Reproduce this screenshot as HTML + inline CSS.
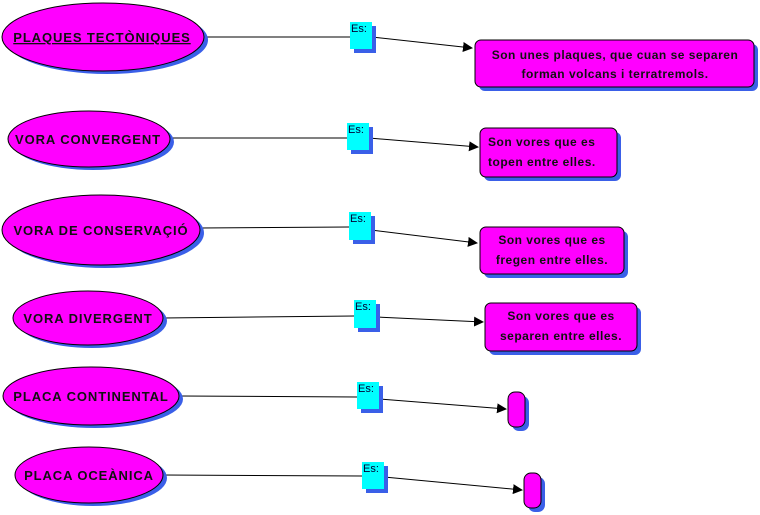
<!DOCTYPE html>
<html><head><meta charset="utf-8"><style>
html,body{margin:0;padding:0;background:#fff;width:760px;height:515px;overflow:hidden}
svg{display:block}
text{font-family:"Liberation Sans",sans-serif;font-weight:bold;fill:#111}
.e{fill:#ff00ff;stroke:#000;stroke-width:1}
.s{fill:#3a5fe8}
.c{fill:#00ffff}
.es{font-weight:normal;font-size:11px;fill:#003;letter-spacing:0}
.l{stroke:#000;stroke-width:1;fill:none}
.t{font-size:13px;letter-spacing:0.9px}
.b{font-size:12px;letter-spacing:0.5px}
</style></head><body>
<svg width="760" height="515" viewBox="0 0 760 515">
<defs><marker id="a" markerWidth="10" markerHeight="10" refX="9" refY="5" orient="auto" markerUnits="userSpaceOnUse"><path d="M0,0 L10,5 L0,10 z" fill="#000"/></marker></defs>

<line class="l" x1="205" y1="37" x2="350" y2="37"/>
<line class="l" x1="170" y1="138" x2="347" y2="138"/>
<line class="l" x1="200" y1="228" x2="349" y2="227"/>
<line class="l" x1="163" y1="318" x2="354" y2="316"/>
<line class="l" x1="180" y1="396" x2="357" y2="397"/>
<line class="l" x1="163" y1="475" x2="362" y2="476"/>
<line class="l" x1="372" y1="37" x2="472" y2="48" marker-end="url(#a)"/>
<line class="l" x1="369" y1="138" x2="478" y2="147" marker-end="url(#a)"/>
<line class="l" x1="371" y1="230" x2="477" y2="243" marker-end="url(#a)"/>
<line class="l" x1="376" y1="317" x2="483" y2="322" marker-end="url(#a)"/>
<line class="l" x1="379" y1="399" x2="506" y2="409" marker-end="url(#a)"/>
<line class="l" x1="384" y1="477" x2="522" y2="490" marker-end="url(#a)"/>

<ellipse class="s" cx="107" cy="40" rx="101" ry="34"/><ellipse class="e" cx="103" cy="37" rx="101" ry="34"/>
<ellipse class="s" cx="93" cy="142" rx="81" ry="28"/><ellipse class="e" cx="89" cy="139" rx="81" ry="28"/>
<ellipse class="s" cx="105" cy="233" rx="99" ry="35"/><ellipse class="e" cx="101" cy="230" rx="99" ry="35"/>
<ellipse class="s" cx="92" cy="321" rx="75" ry="27"/><ellipse class="e" cx="88" cy="318" rx="75" ry="27"/>
<ellipse class="s" cx="95" cy="399" rx="88" ry="29"/><ellipse class="e" cx="91" cy="396" rx="88" ry="29"/>
<ellipse class="s" cx="93" cy="478" rx="74" ry="28"/><ellipse class="e" cx="89" cy="475" rx="74" ry="28"/>
<text class="t" x="102" y="42" text-anchor="middle" text-decoration="underline">PLAQUES TECTÒNIQUES</text>
<text class="t" x="88" y="144" text-anchor="middle">VORA CONVERGENT</text>
<text class="t" x="101" y="235" text-anchor="middle">VORA DE CONSERVAÇIÓ</text>
<text class="t" x="88" y="323" text-anchor="middle">VORA DIVERGENT</text>
<text class="t" x="91" y="401" text-anchor="middle">PLACA CONTINENTAL</text>
<text class="t" x="89" y="480" text-anchor="middle">PLACA OCEÀNICA</text>

<rect class="s" x="354" y="26" width="22" height="27"/><rect class="c" x="350" y="22" width="22" height="27"/><text class="es" x="351" y="32">Es:</text>
<rect class="s" x="351" y="127" width="22" height="27"/><rect class="c" x="347" y="123" width="22" height="27"/><text class="es" x="348" y="133">Es:</text>
<rect class="s" x="353" y="216" width="22" height="28"/><rect class="c" x="349" y="212" width="22" height="28"/><text class="es" x="350" y="222">Es:</text>
<rect class="s" x="358" y="304" width="22" height="28"/><rect class="c" x="354" y="300" width="22" height="28"/><text class="es" x="355" y="310">Es:</text>
<rect class="s" x="361" y="386" width="22" height="27"/><rect class="c" x="357" y="382" width="22" height="27"/><text class="es" x="358" y="392">Es:</text>
<rect class="s" x="366" y="466" width="22" height="27"/><rect class="c" x="362" y="462" width="22" height="27"/><text class="es" x="363" y="472">Es:</text>

<rect class="s" x="479" y="44" width="279" height="47" rx="6"/><rect class="e" x="475" y="40" width="279" height="47" rx="6"/>
<text class="b" x="615" y="59" text-anchor="middle">Son unes plaques, que cuan se separen</text>
<text class="b" x="615" y="78" text-anchor="middle">forman volcans i terratremols.</text>

<rect class="s" x="484" y="132" width="137" height="49" rx="6"/><rect class="e" x="480" y="128" width="137" height="49" rx="6"/>
<text class="b" x="488" y="146">Son vores que es</text>
<text class="b" x="488" y="166">topen entre elles.</text>

<rect class="s" x="484" y="231" width="144" height="47" rx="6"/><rect class="e" x="480" y="227" width="144" height="47" rx="6"/>
<text class="b" x="552" y="244" text-anchor="middle">Son vores que es</text>
<text class="b" x="552" y="264" text-anchor="middle">fregen entre elles.</text>

<rect class="s" x="489" y="307" width="152" height="48" rx="6"/><rect class="e" x="485" y="303" width="152" height="48" rx="6"/>
<text class="b" x="561" y="320" text-anchor="middle">Son vores que es</text>
<text class="b" x="561" y="340" text-anchor="middle">separen entre elles.</text>

<rect class="s" x="512" y="396" width="17" height="35" rx="7"/><rect class="e" x="508" y="392" width="17" height="35" rx="7"/>
<rect class="s" x="528" y="477" width="17" height="35" rx="7"/><rect class="e" x="524" y="473" width="17" height="35" rx="7"/>
</svg>
</body></html>
